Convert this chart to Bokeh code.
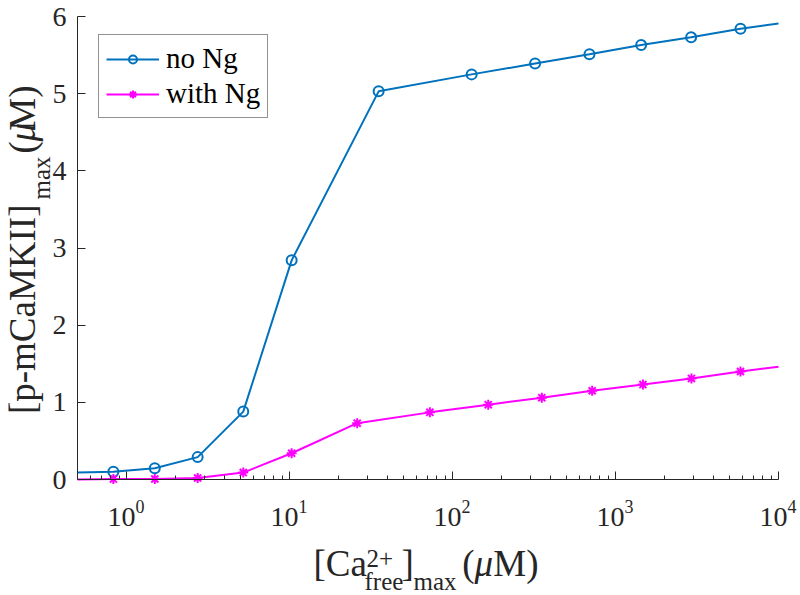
import math
from bokeh.plotting import figure
from bokeh.models import (Range1d, FixedTicker, Label, Legend, LegendItem,
                          CustomJSTickFormatter)
from bokeh.embed import file_html
from bokeh.resources import INLINE

# ---------------- data ----------------
x_min, x_max = 0.5, 1e4          # x axis limits
y_min, y_max = 0, 6              # y axis limits

ca_no_ng = [0.83, 1.49, 2.73, 5.2, 10.3, 35.2, 131, 321, 692, 1437, 2911, 5845]
camk_no_ng = [0.10, 0.145, 0.29, 0.88, 2.84, 5.03, 5.25, 5.39, 5.51, 5.63, 5.73, 5.84]
no_ng_at_limits = [0.09, 5.91]   # line value read where it meets the x limits

ca_with_ng = [0.83, 1.49, 2.73, 5.2, 10.3, 26.0, 72.6, 165.6, 353, 719, 1473, 2924, 5845]
camk_with_ng = [0.005, 0.007, 0.02, 0.09, 0.34, 0.73, 0.87, 0.97, 1.06, 1.15, 1.23, 1.31, 1.40]
with_ng_at_limits = [0.0, 1.46]

series_labels = ["no Ng", "with Ng"]
x_major_ticks = [1, 10, 100, 1000, 10000]
x_tick_base = "10"
x_tick_exps = ["0", "1", "2", "3", "4"]
y_ticks = [0, 1, 2, 3, 4, 5, 6]

# ---------------- layout geometry (pixels) ----------------
W, H = 800, 595
AX_L, AX_R, AX_T, AX_B = 77, 778, 16, 479   # axes box inside the canvas

ppd = (AX_R - AX_L) / math.log10(x_max / x_min)
xr0 = 10 ** (math.log10(x_min) - AX_L / ppd)
xr1 = 10 ** (math.log10(x_max) + (W - AX_R) / ppd)
ppu = (AX_B - AX_T) / (y_max - y_min)
yr0 = y_min - (H - AX_B) / ppu
yr1 = y_max + AX_T / ppu

BLUE = "#0072BD"
MAG = "#FF00FF"
AX = "#262626"
FONT = "Liberation Serif"
MID = 0.3375   # (ascent - descent) / 2, in em: baseline -> box centre

p = figure(width=W, height=H, x_axis_type="log",
           x_range=Range1d(xr0, xr1), y_range=Range1d(yr0, yr1),
           output_backend="svg", toolbar_location=None,
           min_border=0, min_border_left=0, min_border_right=0,
           min_border_top=0, min_border_bottom=0)
p.title.visible = False
p.outline_line_color = None
p.grid.visible = False
p.background_fill_color = "white"
p.border_fill_color = "white"

minor = [m * 10 ** k for k in range(-1, 4) for m in range(2, 10)
         if x_min < m * 10 ** k < x_max]
xa = p.xaxis[0]
ya = p.yaxis[0]
xa.ticker = FixedTicker(ticks=x_major_ticks, minor_ticks=minor)
xa.formatter = CustomJSTickFormatter(code="return ''")
xa.fixed_location = y_min
xa.bounds = (x_min, x_max)
ya.ticker = FixedTicker(ticks=y_ticks, minor_ticks=[])
ya.fixed_location = x_min
ya.bounds = (y_min, y_max)

for ax in (xa, ya):
    ax.axis_line_color = AX
    ax.axis_line_width = 1
    ax.major_tick_line_color = AX
    ax.minor_tick_line_color = AX
    ax.major_tick_in = 8
    ax.major_tick_out = 0
    ax.minor_tick_in = 4
    ax.minor_tick_out = 0
    ax.major_label_text_font = FONT
    ax.major_label_text_font_size = "28px"
    ax.major_label_text_color = AX
ya.major_label_standoff = 11
xa.major_label_standoff = 0

# ---------------- series ----------------
l1 = p.line([x_min] + ca_no_ng + [x_max],
            [no_ng_at_limits[0]] + camk_no_ng + [no_ng_at_limits[1]],
            line_color=BLUE, line_width=2)
m1 = p.scatter(ca_no_ng, camk_no_ng, marker="circle", size=10, fill_color=None,
               line_color=BLUE, line_width=2)
l2 = p.line([x_min] + ca_with_ng + [x_max],
            [with_ng_at_limits[0]] + camk_with_ng + [with_ng_at_limits[1]],
            line_color=MAG, line_width=2)
m2 = p.scatter(ca_with_ng, camk_with_ng, marker="asterisk", size=10,
               line_color=MAG, line_width=2)

legend = Legend(items=[LegendItem(label=series_labels[0], renderers=[l1, m1]),
                       LegendItem(label=series_labels[1], renderers=[l2, m2])],
                location=(98, H - 118), orientation="vertical",
                border_line_color=AX, border_line_width=1,
                background_fill_color="white", background_fill_alpha=1,
                label_text_font=FONT, label_text_font_size="29px",
                label_text_color="black",
                glyph_width=53, glyph_height=20, label_height=30,
                label_standoff=7, spacing=2, padding=7, margin=0)
p.add_layout(legend)

# ---------------- x tick labels: 10^k (baselines 47 / 33 px below the axis) ----------------
for xt, e in zip(x_major_ticks, x_tick_exps):
    p.add_layout(Label(x=xt, y=H - (AX_B + 47 - MID * 28), x_units="data", y_units="screen",
                       text=x_tick_base, x_offset=9, text_align="right",
                       text_baseline="middle", text_font=FONT,
                       text_font_size="28px", text_color=AX))
    p.add_layout(Label(x=xt, y=H - (AX_B + 33 - MID * 18), x_units="data", y_units="screen",
                       text=e, x_offset=9, text_align="left",
                       text_baseline="middle", text_font=FONT,
                       text_font_size="18px", text_color=AX))


def lab(text, x, base, size, align="left", style="normal", rotated=False):
    """x along the text, base = baseline position, canvas pixels from top-left."""
    s = float(size[:-2])
    if rotated:
        sx, sy, ang = base - MID * s, x, math.pi / 2
    else:
        sx, sy, ang = x, base - MID * s, 0.0
    p.add_layout(Label(x=sx, y=H - sy, x_units="screen", y_units="screen", text=text,
                       text_align=align, text_baseline="middle",
                       text_font=FONT, text_font_size=size, text_font_style=style,
                       text_color=AX, angle=ang))


MAIN = "37px"
SUB = "25px"
# x axis label: [Ca^{2+}_{free}]_{max} (μM)
lab("[Ca", 313, 575, MAIN)
lab("2+", 366, 566, SUB)
lab("free", 364, 589, SUB)
lab("]", 401, 575, MAIN)
lab("max", 413, 589, SUB)
lab("(", 474, 575, MAIN, align="right")
lab("\u03bc", 474, 575, MAIN, style="italic")
lab("M)", 538, 575, MAIN, align="right")

# y axis label: [p-mCaMKII]_{max} (μM), reading upwards
lab("[p-mCaMKII]", 204, 34, MAIN, align="right", rotated=True)
lab("max", 199, 49, SUB, rotated=True)
lab("(", 153, 34, MAIN, rotated=True)
lab("\u03bc", 141, 34, MAIN, style="italic", rotated=True)
lab("M)", 85, 34, MAIN, align="right", rotated=True)

open("out.html", "w").write(file_html(p, INLINE))
